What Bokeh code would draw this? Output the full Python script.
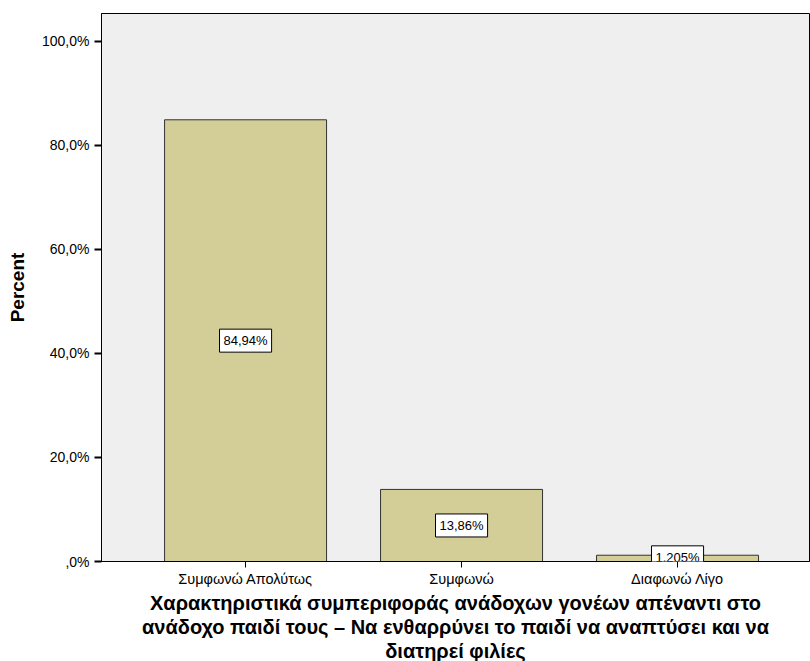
from bokeh.plotting import figure
from bokeh.models import (Range1d, FixedTicker, CustomJSTickFormatter, ColumnDataSource, Label, Title)
from bokeh.embed import file_html
from bokeh.resources import INLINE

categories = ["Συμφωνώ Απολύτως", "Συμφωνώ", "Διαφωνώ Λίγο"]
percents = [84.94, 13.86, 1.205]
bar_labels = ["84,94%", "13,86%", "1,205%"]
y_ticks = [0, 20, 40, 60, 80, 100]
x_title_lines = ["Χαρακτηριστικά συμπεριφοράς ανάδοχων γονέων απέναντι στο",
                 "ανάδοχο παιδί τους – Να ενθαρρύνει το παιδί να αναπτύσει και να",
                 "διατηρεί φιλίες"]

xs = list(range(len(categories)))
src = ColumnDataSource(dict(x=xs, top=percents))

p = figure(width=810, height=661, output_backend="svg", toolbar_location=None,
           x_range=Range1d(-0.667, 2.611), y_range=Range1d(0, 105.38),
           min_border_left=101, min_border_right=1, min_border_top=13, min_border_bottom=0)

p.background_fill_color = "#EFEFEF"
p.border_fill_color = "white"
p.outline_line_color = "black"
p.outline_line_width = 1
p.xgrid.visible = False
p.ygrid.visible = False

p.vbar(x="x", top="top", width=0.75, bottom=0, source=src,
       fill_color="#D3CE97", line_color="#333333", line_width=1)

for xi, v, lab in zip(xs, percents, bar_labels):
    p.add_layout(Label(x=xi, y=max(v / 2, 0.8), text=lab,
                       text_align="center", text_baseline="middle",
                       text_font="Liberation Sans", text_font_size="13px", text_color="black",
                       background_fill_color="white", border_line_color="black",
                       border_line_width=1, padding=4))

# axes
p.xaxis.ticker = FixedTicker(ticks=xs)
p.xaxis.major_label_overrides = {i: c for i, c in enumerate(categories)}
p.xaxis.major_label_text_font = "Liberation Sans"
p.xaxis.major_label_text_font_size = "14.5px"
p.xaxis.major_label_text_color = "black"
p.xaxis.major_tick_out = 6
p.xaxis.major_tick_in = 0
p.xaxis.minor_tick_line_color = None
p.xaxis.axis_line_color = "black"
p.xaxis.major_tick_line_color = "black"
p.xaxis.major_label_standoff = 3

# multi-line x axis title as stacked titles below the axis
for i, line in enumerate(x_title_lines):
    p.add_layout(Title(text=line, align="center", text_font="Liberation Sans",
                       text_font_size="20px", text_font_style="bold", text_color="black",
                       standoff=0, offset=7, text_line_height=1.0), "below")

p.yaxis.ticker = FixedTicker(ticks=y_ticks)
p.yaxis.formatter = CustomJSTickFormatter(code="""
    if (tick == 0) { return ',0%'; }
    return tick.toFixed(1).replace('.', ',') + '%';
""")
p.yaxis.major_label_text_font = "Liberation Sans"
p.yaxis.major_label_text_font_size = "14px"
p.yaxis.major_label_text_color = "black"
p.yaxis.major_tick_out = 7
p.yaxis.major_tick_in = 0
p.yaxis.major_tick_line_width = 2
p.yaxis.minor_tick_line_color = None
p.yaxis.axis_line_color = "black"
p.yaxis.major_label_standoff = 5
p.yaxis.axis_label = "Percent"
p.yaxis.axis_label_text_font = "Liberation Sans"
p.yaxis.axis_label_text_font_size = "19px"
p.yaxis.axis_label_text_font_style = "bold"
p.yaxis.axis_label_text_color = "black"
p.yaxis.axis_label_standoff = 11

open("out.html", "w").write(file_html(p, INLINE))
